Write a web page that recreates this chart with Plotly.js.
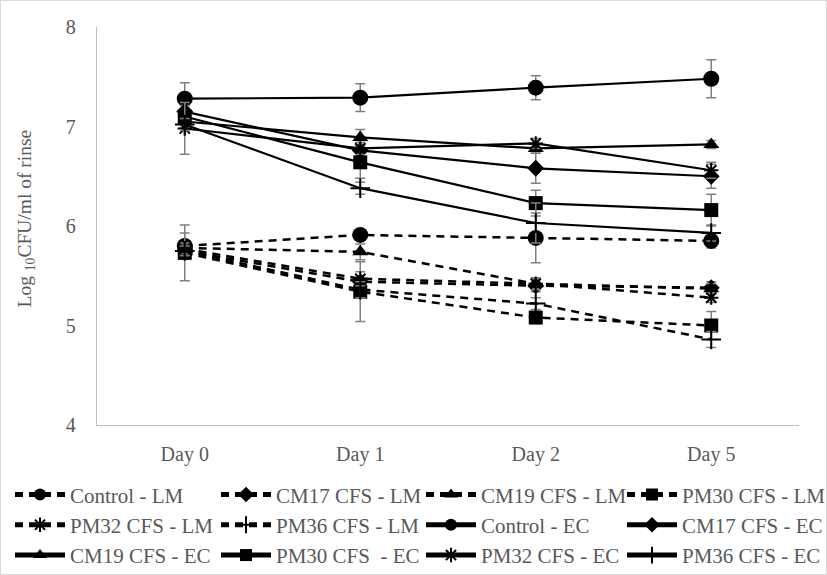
<!DOCTYPE html>
<html><head><meta charset="utf-8">
<script src="https://cdn.plot.ly/plotly-3.0.1.min.js"></script>
<style>html,body{margin:0;padding:0;background:#fff}#frame{width:825px;height:573px;border:1px solid #d9d9d9;}</style>
</head><body><div id="frame"><div id="chart" style="width:825px;height:573px"></div></div>
<script>
const days = ['Day 0','Day 1','Day 2','Day 5'];
const yTitle = 'Log <sub>10</sub>CFU/ml of rinse';

const controlLM = [5.80, 5.91, 5.88, 5.85];
const controlLMErr = [0.13, 0.05, 0.25, 0.07];
const cm17LM = [5.75, 5.44, 5.40, 5.38];
const cm17LMErr = [0.05, 0.06, 0.06, 0.06];
const cm19LM = [5.78, 5.74, 5.42, 5.37];
const cm19LMErr = [0.05, 0.08, 0.06, 0.05];
const pm30LM = [5.73, 5.34, 5.08, 5.00];
const pm30LMErr = [0.28, 0.30, 0.06, 0.14];
const pm32LM = [5.77, 5.47, 5.42, 5.28];
const pm32LMErr = [0.05, 0.07, 0.05, 0.05];
const pm36LM = [5.75, 5.36, 5.22, 4.86];
const pm36LMErr = [0.05, 0.08, 0.06, 0.08];

const controlEC = [7.28, 7.29, 7.39, 7.48];
const controlECErr = [0.16, 0.14, 0.12, 0.19];
const cm17EC = [7.15, 6.76, 6.58, 6.50];
const cm17ECErr = [0.06, 0.08, 0.15, 0.12];
const cm19EC = [7.05, 6.89, 6.78, 6.82];
const cm19ECErr = [0.06, 0.08, 0.05, 0.04];
const pm30EC = [7.10, 6.64, 6.23, 6.16];
const pm30ECErr = [0.06, 0.16, 0.13, 0.16];
const pm32EC = [6.98, 6.78, 6.83, 6.56];
const pm32ECErr = [0.26, 0.06, 0.05, 0.08];
const pm36EC = [7.02, 6.38, 6.03, 5.93];
const pm36ECErr = [0.06, 0.06, 0.2, 0.08];

const names = ['Control - LM','CM17 CFS - LM','CM19 CFS - LM','PM30 CFS - LM','PM32 CFS - LM','PM36 CFS - LM',
  'Control - EC','CM17 CFS - EC','CM19 CFS - EC','PM30 CFS \u00a0- EC','PM32 CFS - EC','PM36 CFS - EC'];
const series = [controlLM,cm17LM,cm19LM,pm30LM,pm32LM,pm36LM,controlEC,cm17EC,cm19EC,pm30EC,pm32EC,pm36EC];
const errs = [controlLMErr,cm17LMErr,cm19LMErr,pm30LMErr,pm32LMErr,pm36LMErr,controlECErr,cm17ECErr,cm19ECErr,pm30ECErr,pm32ECErr,pm36ECErr];
const symbols = ['circle','diamond','triangle-up','square','asterisk-open','cross-thin-open'];
const sizes = [16,13,14,14,12,14];
const legendIds = ['legend','legend2','legend3','legend4'];
const FONT = '"Liberation Serif", "Times New Roman", serif';

const traces = series.map((y,i)=>{
  const k = i%6; const lm = i<6;
  return {
    x: days, y: y, name: names[i], type:'scatter', mode:'lines+markers',
    legend: legendIds[i%4],
    line:{color:'#000', width: lm?2.5:2.2, dash: lm?'8px,6px':'solid'},
    marker:{symbol:symbols[k], size:sizes[k], color:'#000', line:{color:'#000', width:(k>=4)?2:0}},
    error_y:{type:'data', array:errs[i], visible:true, color:'#808080', thickness:1.5, width:5}
  };
});

const legendXs = [9, 215, 420, 621];
function mkLegend(px){
  return {orientation:'v', xref:'container', yref:'container', x:px/825, y:0.174, xanchor:'left', yanchor:'top',
    itemwidth:50, itemsizing:'constant', bgcolor:'rgba(0,0,0,0)',
    font:{family:FONT, size:21, color:'#595959'}, tracegroupgap:0, traceorder:'normal'};
}

const layout = {
  width:825, height:573,
  margin:{l:96, r:27, t:26, b:149, autoexpand:false},
  paper_bgcolor:'#fff', plot_bgcolor:'#fff',
  font:{family:FONT, color:'#595959', size:20},
  showlegend:true,
  xaxis:{type:'category', range:[-0.5,3.5], showgrid:false, zeroline:false, showline:true, linecolor:'#bfbfbf', linewidth:1.3,
    ticks:'', tickfont:{family:FONT, size:20, color:'#595959'}, ticklabelstandoff:11},
  yaxis:{range:[4,8], dtick:1, showgrid:false, zeroline:false, showline:true, linecolor:'#bfbfbf', linewidth:1.3,
    ticks:'', tickfont:{family:FONT, size:20, color:'#595959'}, ticklabelstandoff:16},
  annotations:[{text:yTitle, xref:'paper', yref:'paper', x:-0.101, y:0.519, textangle:-90, showarrow:false,
    xanchor:'center', yanchor:'middle', font:{family:FONT, size:19.5, color:'#595959'}}],
  legend: mkLegend(legendXs[0]),
  legend2: mkLegend(legendXs[1]),
  legend3: mkLegend(legendXs[2]),
  legend4: mkLegend(legendXs[3])
};
Plotly.newPlot('chart', traces, layout, {displayModeBar:false, staticPlot:true});
</script></body></html>
